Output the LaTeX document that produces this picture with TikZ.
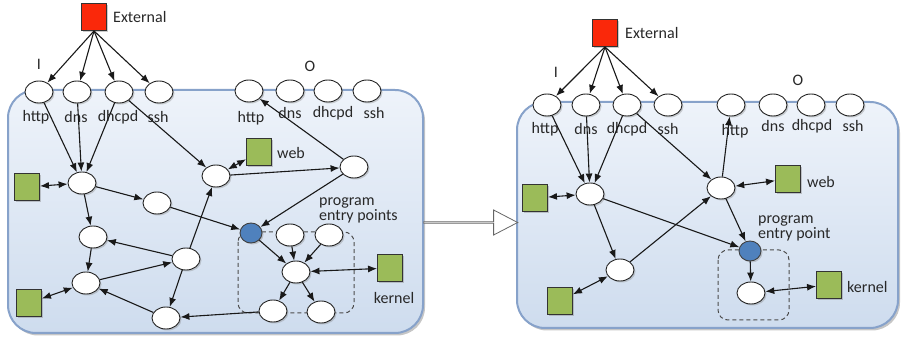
\documentclass[tikz,border=0pt]{standalone}
\usepackage{fontspec}
\setmainfont{Carlito}
\usetikzlibrary{shapes.geometric,shapes.arrows,shadows,arrows.meta}
\definecolor{extred}{RGB}{250,40,10}
\definecolor{modgreen}{RGB}{155,187,89}
\definecolor{entryblue}{RGB}{79,129,189}
\definecolor{panelline}{RGB}{135,162,202}
\definecolor{paneltop}{RGB}{238,243,250}
\definecolor{panelbot}{RGB}{206,220,238}
\definecolor{ink}{RGB}{40,40,40}
\begin{document}
\begin{tikzpicture}[x=1pt,y=-1pt,
  font=\fontsize{16}{15}\selectfont,
  panel/.style={rectangle, rounded corners=28pt, draw=panelline, line width=2pt,
    top color=paneltop, bottom color=panelbot,
    drop shadow={shadow xshift=2pt, shadow yshift=-2.5pt, opacity=0.45}},
  st/.style={ellipse, draw=black!85, fill=white, line width=0.9pt,
    minimum width=28pt, minimum height=22pt, inner sep=0pt,
    drop shadow={shadow xshift=1.5pt, shadow yshift=-1.5pt, opacity=0.35}},
  entry/.style={st, fill=entryblue, draw=black!75, minimum width=22pt, minimum height=20pt},
  mod/.style={rectangle, draw=black!80, fill=modgreen, line width=0.9pt,
    minimum width=25pt, minimum height=27pt, inner sep=0pt,
    drop shadow={shadow xshift=1.5pt, shadow yshift=-1.5pt, opacity=0.4}},
  ext/.style={mod, fill=extred},
  lbl/.style={text=ink, inner sep=0pt},
  arr/.style={draw=black!90, line width=1.1pt, -{Latex[length=9pt,width=7pt]}},
  biarr/.style={draw=black!90, line width=1.1pt, {Latex[length=9pt,width=7pt]}-{Latex[length=9pt,width=7pt]}},
  encl/.style={draw=black!70, line width=1pt, dash pattern=on 4pt off 3pt, rounded corners=10pt},
  bigarrow/.style={single arrow, draw=black!60, fill=white, line width=0.8pt,
    minimum width=25pt, single arrow head extend=7pt, single arrow tip angle=55, inner sep=0pt}
]
\useasboundingbox (0,0) rectangle (902,344);

% ---------- panels ----------
\node[panel, minimum width=415pt, minimum height=243pt] (panL) at (215.5,211.5) {};
\node[panel, minimum width=381pt, minimum height=226pt] (panR) at (707.5,215) {};
\node[bigarrow, minimum height=94pt] (trans) at (470,222.5) {};

% enclosures around the entry regions
\draw[encl] (238,232) rectangle (354,313);
\draw[encl] (718,250) rectangle (789,320);

% ================= left: before =================
\node[ext] (e1) at (94,17) {};
\node[lbl, anchor=west] at (113,17) {External};
\node[lbl] at (39,64) {I};
\node[st] (ih1) at (39,92) {};
\node[st] (id1) at (77,92) {};
\node[st] (ic1) at (119,92) {};
\node[st] (is1) at (159,92) {};
\node[lbl] at (36,117) {http};
\node[lbl] at (76,117) {dns};
\node[lbl] at (118,117) {dhcpd};
\node[lbl] at (158,117) {ssh};

\node[lbl] at (310,66) {O};
\node[st] (oh1) at (249,91) {};
\node[st] (od1) at (290,91) {};
\node[st] (oc1) at (328,91) {};
\node[st] (os1) at (367,91) {};
\node[lbl] at (251,118) {http};
\node[lbl] at (290,113) {dns};
\node[lbl] at (333,113) {dhcpd};
\node[lbl] at (374,113) {ssh};

\node[st] (A1) at (82,183) {};
\node[mod] (gL1) at (27,187) {};
\node[st] (B1) at (157,203) {};
\node[st] (C1) at (93,237) {};
\node[st] (D1) at (186,259) {};
\node[st] (E1) at (86,283) {};
\node[mod] (gB1) at (29,303) {};
\node[st] (F1) at (166,318) {};
\node[st] (G1) at (216,176) {};
\node[mod] (web1) at (259,152) {};
\node[lbl, anchor=west] at (277,153) {web};
\node[st] (H1) at (354,167) {};
\node[entry] (P1) at (251,233) {};
\node[st] (Q1) at (290,235) {};
\node[st] (Q2) at (329,235) {};
\node[st] (R1) at (296,272) {};
\node[st] (S1) at (273,311) {};
\node[st] (S2) at (321,312) {};
\node[mod] (k1) at (390,268) {};
\node[lbl] at (394,298) {kernel};
\node[lbl, anchor=west, align=left] at (319,210) {program\\entry points};

\draw[arr] (e1.south) -- (ih1);
\draw[arr] (e1.south) -- (id1);
\draw[arr] (e1.south) -- (ic1);
\draw[arr] (e1.south) -- (is1);
\draw[arr] (ih1) -- (A1);
\draw[arr] (id1) -- (A1);
\draw[arr] (ic1) -- (A1);
\draw[arr] (ic1) -- (G1);
\draw[biarr] (gL1) -- (A1);
\draw[arr] (A1) -- (B1);
\draw[arr] (A1) -- (C1);
\draw[arr] (B1) -- (P1);
\draw[arr] (C1) -- (E1);
\draw[arr] (D1) -- (C1);
\draw[arr] (E1) -- (D1);
\draw[arr] (D1) -- (G1);
\draw[arr] (D1) -- (F1);
\draw[arr] (F1) -- (E1);
\draw[biarr] (gB1) -- (E1);
\draw[biarr] (G1) -- (web1);
\draw[arr] (G1) -- (H1);
\draw[arr] (H1) -- (oh1);
\draw[arr] (H1) -- (P1);
\draw[arr] (P1) -- (R1);
\draw[arr] (Q1) -- (R1);
\draw[arr] (Q2) -- (R1);
\draw[biarr] (R1) -- (k1);
\draw[arr] (R1) -- (S1);
\draw[arr] (R1) -- (S2);
\draw[arr] (S1) -- (F1);

% ================= right: after =================
\node[ext] (e2) at (605,33) {};
\node[lbl, anchor=west] at (625,33) {External};
\node[lbl] at (556,72) {I};
\node[st] (ih2) at (547,105) {};
\node[st] (id2) at (586,105) {};
\node[st] (ic2) at (627,105) {};
\node[st] (is2) at (668,105) {};
\node[lbl] at (545,129) {http};
\node[lbl] at (586,129) {dns};
\node[lbl] at (627,129) {dhcpd};
\node[lbl] at (668,129) {ssh};

\node[lbl] at (798,80) {O};
\node[st] (oh2) at (731,105) {};
\node[st] (od2) at (773,105) {};
\node[st] (oc2) at (811,105) {};
\node[st] (os2) at (850,105) {};
\node[lbl] at (735,131) {http};
\node[lbl] at (773,126) {dns};
\node[lbl] at (812,126) {dhcpd};
\node[lbl] at (853,126) {ssh};

\node[st] (A2) at (590,194) {};
\node[mod] (gL2) at (535,198) {};
\node[st] (C2) at (620,270) {};
\node[mod] (gB2) at (560,301) {};
\node[st] (G2) at (721,188) {};
\node[mod] (web2) at (788,179) {};
\node[lbl, anchor=west] at (807,182) {web};
\node[entry] (P2) at (750,251) {};
\node[st] (K2) at (751,293) {};
\node[mod] (k2) at (829,285) {};
\node[lbl, anchor=west] at (847,287) {kernel};
\node[lbl, anchor=west, align=left] at (758,228) {program\\entry point};

\draw[arr] (e2.south) -- (ih2);
\draw[arr] (e2.south) -- (id2);
\draw[arr] (e2.south) -- (ic2);
\draw[arr] (e2.south) -- (is2);
\draw[arr] (ih2) -- (A2);
\draw[arr] (id2) -- (A2);
\draw[arr] (ic2) -- (A2);
\draw[arr] (ic2) -- (G2);
\draw[biarr] (gL2) -- (A2);
\draw[arr] (A2) -- (C2);
\draw[arr] (A2) -- (P2);
\draw[arr] (C2) -- (G2);
\draw[biarr] (gB2) -- (C2);
\draw[arr] (G2) -- (oh2);
\draw[biarr] (G2) -- (web2);
\draw[arr] (G2) -- (P2);
\draw[arr] (P2) -- (K2);
\draw[biarr] (K2) -- (k2);
\end{tikzpicture}
\end{document}
